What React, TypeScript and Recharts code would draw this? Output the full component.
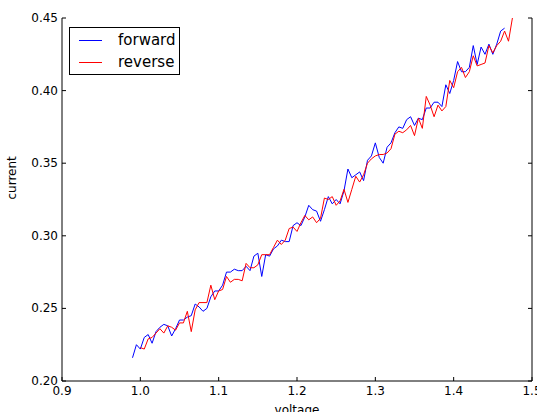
import { Line, LineChart, XAxis, YAxis } from "recharts";

const VOLTAGE = [
  0.99, 0.995, 1.0, 1.005, 1.01, 1.015, 1.02, 1.025, 1.03, 1.035,
  1.04, 1.045, 1.05, 1.055, 1.06, 1.065, 1.07, 1.075, 1.08, 1.085,
  1.09, 1.095, 1.1, 1.105, 1.11, 1.115, 1.12, 1.125, 1.13, 1.135,
  1.14, 1.145, 1.15, 1.155, 1.16, 1.165, 1.17, 1.175, 1.18, 1.185,
  1.19, 1.195, 1.2, 1.205, 1.21, 1.215, 1.22, 1.225, 1.23, 1.235,
  1.24, 1.245, 1.25, 1.255, 1.26, 1.265, 1.27, 1.275, 1.28, 1.285,
  1.29, 1.295, 1.3, 1.305, 1.31, 1.315, 1.32, 1.325, 1.33, 1.335,
  1.34, 1.345, 1.35, 1.355, 1.36, 1.365, 1.37, 1.375, 1.38, 1.385,
  1.39, 1.395, 1.4, 1.405, 1.41, 1.415, 1.42, 1.425, 1.43, 1.435,
  1.44, 1.445, 1.45, 1.455, 1.46, 1.465, 1.47, 1.475, 1.48,
];

const FORWARD: (number | null)[] = [
  0.216, 0.225, 0.222, 0.23, 0.232, 0.226, 0.234, 0.237, 0.239, 0.238,
  0.231, 0.236, 0.242, 0.242, 0.244, 0.245, 0.253, 0.251, 0.248, 0.25,
  0.258, 0.262, 0.262, 0.266, 0.275, 0.275, 0.277, 0.276, 0.276, 0.279,
  0.276, 0.286, 0.288, 0.272, 0.287, 0.286, 0.291, 0.293, 0.297, 0.296,
  0.296, 0.307, 0.309, 0.307, 0.313, 0.321, 0.318, 0.317, 0.31, 0.318,
  0.327, 0.322, 0.325, 0.322, 0.331, 0.346, 0.34, 0.342, 0.344, 0.338,
  0.352, 0.355, 0.364, 0.354, 0.35, 0.361, 0.364, 0.371, 0.375, 0.374,
  0.38, 0.382, 0.376, 0.381, 0.38, 0.388, 0.388, 0.392, 0.392, 0.389,
  0.404, 0.398, 0.407, 0.42, 0.413, 0.413, 0.416, 0.431, 0.418, 0.43,
  0.425, 0.432, 0.425, 0.432, 0.441, 0.443, null, null, null,
];

const REVERSE: (number | null)[] = [
  null, null,
  0.223, 0.222, 0.229, 0.23, 0.233, 0.236, 0.233, 0.238, 0.237, 0.235,
  0.24, 0.24, 0.248, 0.234, 0.249, 0.254, 0.254, 0.254, 0.266, 0.256,
  0.262, 0.263, 0.272, 0.268, 0.27, 0.27, 0.269, 0.281, 0.278, 0.278,
  0.28, 0.287, 0.287, 0.287, 0.292, 0.297, 0.294, 0.297, 0.305, 0.306,
  0.303, 0.309, 0.314, 0.311, 0.313, 0.309, 0.312, 0.326, 0.325, 0.327,
  0.321, 0.324, 0.332, 0.323, 0.332, 0.341, 0.337, 0.342, 0.35, 0.353,
  0.355, 0.356, 0.356, 0.357, 0.36, 0.37, 0.372, 0.371, 0.373, 0.376,
  0.369, 0.381, 0.374, 0.396, 0.39, 0.382, 0.39, 0.386, 0.389, 0.407,
  0.402, 0.413, 0.416, 0.409, 0.413, 0.424, 0.417, 0.418, 0.419, 0.431,
  0.426, 0.431, 0.434, 0.441, 0.434, 0.45, 0.458,
];

const X_TICKS = [0.9, 1.0, 1.1, 1.2, 1.3, 1.4, 1.5];
const Y_TICKS = [0.2, 0.25, 0.3, 0.35, 0.4, 0.45];

const FONT = "'DejaVu Sans', sans-serif";
const BLUE = "#0000ff";
const RED = "#ff0000";

const data = VOLTAGE.map((v, i) => ({
  voltage: v,
  forward: FORWARD[i],
  reverse: REVERSE[i],
}));

// matplotlib classic: ticks point inward on all four sides
function BottomTick({ x, y, payload }: any) {
  return (
    <g>
      <line x1={x} y1={y} x2={x} y2={y - 4} stroke="#000" />
      <text x={x} y={y + 14} textAnchor="middle" fontSize={12} fontFamily={FONT} fill="#000">
        {payload.value.toFixed(1)}
      </text>
    </g>
  );
}

function TopTick({ x, y }: any) {
  return <line x1={x} y1={y} x2={x} y2={y + 4} stroke="#000" />;
}

function LeftTick({ x, y, payload }: any) {
  return (
    <g>
      <line x1={x} y1={y} x2={x + 4} y2={y} stroke="#000" />
      <text x={x - 4} y={y + 4} textAnchor="end" fontSize={12} fontFamily={FONT} fill="#000">
        {payload.value.toFixed(2)}
      </text>
    </g>
  );
}

function RightTick({ x, y }: any) {
  return <line x1={x} y1={y} x2={x - 4} y2={y} stroke="#000" />;
}

function LegendBox() {
  const row = (color: string, label: string) => (
    <div style={{ display: "flex", alignItems: "center", height: 22 }}>
      <div style={{ width: 23, height: 0, borderTop: `1px solid ${color}`, marginLeft: 9, marginRight: 16 }} />
      <span style={{ fontSize: 15, fontFamily: FONT, color: "#000" }}>{label}</span>
    </div>
  );
  return (
    <div
      style={{
        position: "absolute",
        left: 69,
        top: 27,
        width: 111,
        height: 48,
        border: "1px solid #000",
        background: "#fff",
        boxSizing: "border-box",
        paddingTop: 1,
      }}
    >
      {row(BLUE, "forward")}
      {row(RED, "reverse")}
    </div>
  );
}

export default function App() {
  return (
    <div style={{ position: "absolute", left: 0, top: 0, width: 537, height: 412, background: "#fff" }}>
      <LineChart
        width={537}
        height={412}
        data={data}
        margin={{ top: 18, right: 0, bottom: 0, left: 0 }}
      >
        <XAxis
          xAxisId="bottom"
          dataKey="voltage"
          type="number"
          domain={[0.9, 1.5]}
          ticks={X_TICKS}
          height={31}
          tickSize={0}
          tickMargin={0}
          tickLine={false}
          axisLine={{ stroke: "#000" }}
          tick={<BottomTick />}
          interval={0}
          label={{
            value: "voltage",
            position: "insideBottom",
            offset: -2,
            fontSize: 12,
            fontFamily: FONT,
            fill: "#000",
          }}
        />
        <XAxis
          xAxisId="top"
          orientation="top"
          dataKey="voltage"
          type="number"
          domain={[0.9, 1.5]}
          ticks={X_TICKS}
          height={0}
          tickSize={0}
          tickMargin={0}
          tickLine={false}
          axisLine={{ stroke: "#000" }}
          tick={<TopTick />}
          interval={0}
        />
        <YAxis
          yAxisId="left"
          type="number"
          domain={[0.2, 0.45]}
          ticks={Y_TICKS}
          allowDataOverflow
          width={62}
          tickSize={0}
          tickMargin={0}
          tickLine={false}
          axisLine={{ stroke: "#000" }}
          tick={<LeftTick />}
          interval={0}
          label={{
            value: "current",
            angle: -90,
            position: "insideLeft",
            offset: 12,
            fontSize: 12,
            fontFamily: FONT,
            fill: "#000",
          }}
        />
        <YAxis
          yAxisId="right"
          orientation="right"
          type="number"
          domain={[0.2, 0.45]}
          ticks={Y_TICKS}
          allowDataOverflow
          width={5}
          tickSize={0}
          tickMargin={0}
          tickLine={false}
          axisLine={{ stroke: "#000" }}
          tick={<RightTick />}
          interval={0}
        />
        <Line
          xAxisId="bottom"
          yAxisId="left"
          dataKey="forward"
          name="forward"
          stroke={BLUE}
          strokeWidth={1}
          dot={false}
          activeDot={false}
          isAnimationActive={false}
        />
        <Line
          xAxisId="bottom"
          yAxisId="left"
          dataKey="reverse"
          name="reverse"
          stroke={RED}
          strokeWidth={1}
          dot={false}
          activeDot={false}
          isAnimationActive={false}
        />
      </LineChart>
      <LegendBox />
    </div>
  );
}
